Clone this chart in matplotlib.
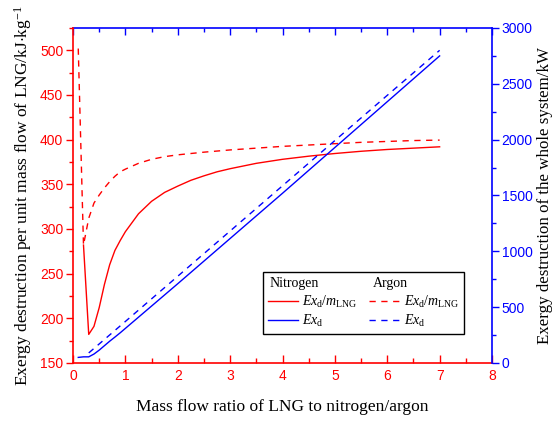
import numpy as np
import matplotlib
matplotlib.use("Agg")
import matplotlib.pyplot as plt
from matplotlib.lines import Line2D
from matplotlib.ticker import MultipleLocator
import matplotlib.transforms as mtransforms

plt.rcParams['mathtext.fontset'] = 'custom'
plt.rcParams['mathtext.rm'] = 'Liberation Serif'
plt.rcParams['mathtext.it'] = 'Liberation Serif:italic'

# Exergy destruction per unit mass flow of LNG (kJ/kg)
ratio_n2_spec = [0.2, 0.3, 0.4, 0.5, 0.6, 0.7, 0.8, 0.9, 1.0, 1.25, 1.5, 1.75,
                 2.0, 2.25, 2.5, 2.75, 3.0, 3.5, 4.0, 4.5, 5.0, 5.5, 6.0, 6.5, 7.0]
exd_spec_n2 = [282, 182, 191, 212, 238, 260, 276, 287, 297, 317, 331, 341,
               348, 354.5, 359.5, 364, 367.5, 373.5, 378, 381.5, 384.5, 387, 389, 390.5, 392]

ratio_ar_spec = [0.1, 0.2, 0.3, 0.4, 0.5, 0.6, 0.7, 0.8, 0.9, 1.0, 1.25, 1.5,
                 1.75, 2.0, 2.5, 3.0, 3.5, 4.0, 4.5, 5.0, 5.5, 6.0, 6.5, 7.0]
exd_spec_ar = [502, 282, 312, 329, 338, 346, 353, 359, 364, 367, 373.5, 378,
               381, 383, 386, 388.5, 390.5, 392.5, 394, 395.5, 397, 398, 399, 399.5]

# Exergy destruction of the whole system (kW)
ratio_n2_tot = [0.1, 0.2, 0.3, 0.4, 0.5, 0.6, 0.7, 0.8, 0.9, 1.0,
                2.0, 3.0, 4.0, 5.0, 6.0, 7.0]
exd_tot_n2 = [50, 55, 55, 80, 115, 155, 195, 232, 270, 310,
              710, 1115, 1520, 1930, 2340, 2750]

ratio_ar_tot = [0.3, 1.0, 2.0, 3.0, 4.0, 5.0, 6.0, 7.0]
exd_tot_ar = [90, 372, 777, 1182, 1587, 1992, 2397, 2800]

serif = 'Liberation Serif'
sans = 'Liberation Sans'
dash = (0, (4.5, 4))

fig = plt.figure(figsize=(5.54, 4.21), dpi=100)
ax = fig.add_axes([0.1318, 0.1378, 0.7563, 0.7957])
ax2 = ax.twinx()

l1, = ax.plot(ratio_n2_spec, exd_spec_n2, color='red', lw=1.0)
l2, = ax.plot(ratio_ar_spec, exd_spec_ar, color='red', lw=1.0, linestyle=dash)
l3, = ax2.plot(ratio_n2_tot, exd_tot_n2, color='blue', lw=1.0)
l4, = ax2.plot(ratio_ar_tot, exd_tot_ar, color='blue', lw=1.0, linestyle=dash)

ax.set_xlim(0, 8)
ax.set_ylim(150, 525)
ax2.set_ylim(0, 3000)

ax.xaxis.set_major_locator(MultipleLocator(1))
ax.xaxis.set_minor_locator(MultipleLocator(0.5))
ax.yaxis.set_major_locator(MultipleLocator(50))
ax.yaxis.set_minor_locator(MultipleLocator(25))
ax2.yaxis.set_major_locator(MultipleLocator(500))
ax2.yaxis.set_minor_locator(MultipleLocator(250))

ax.tick_params(axis='x', which='major', direction='in', length=6, width=1,
               colors='red', labelsize=10, pad=4)
ax.tick_params(axis='x', which='minor', direction='in', length=3.5, width=1, colors='red')
ax.tick_params(axis='y', which='major', direction='out', length=5, width=1,
               colors='red', labelsize=10, pad=2)
ax.tick_params(axis='y', which='minor', direction='out', length=3, width=1, colors='red')
ax2.tick_params(axis='y', which='major', direction='out', length=5, width=1,
                colors='blue', labelsize=10, pad=2)
ax2.tick_params(axis='y', which='minor', direction='out', length=3, width=1, colors='blue')

# blue ticks along the top edge
top = ax.secondary_xaxis('top')
top.xaxis.set_major_locator(MultipleLocator(1))
top.xaxis.set_minor_locator(MultipleLocator(0.5))
top.tick_params(axis='x', which='major', direction='in', length=5, width=1,
                colors='blue', labeltop=False)
top.tick_params(axis='x', which='minor', direction='in', length=3, width=1, colors='blue')
top.spines['top'].set_color('blue')
top.spines['top'].set_linewidth(1.2)

for lab in ax.get_xticklabels() + ax.get_yticklabels() + ax2.get_yticklabels():
    lab.set_family(sans)

ax.spines['left'].set_color('red')
ax.spines['bottom'].set_color('red')
ax.spines['top'].set_visible(False)
ax.spines['right'].set_visible(False)
for s in ['left', 'bottom']:
    ax.spines[s].set_linewidth(1.2)
ax2.spines['left'].set_visible(False)
ax2.spines['bottom'].set_visible(False)
ax2.spines['top'].set_visible(False)
ax2.spines['right'].set_color('blue')
ax2.spines['right'].set_linewidth(1.2)

ax.set_xlabel('Mass flow ratio of LNG to nitrogen/argon', family=serif, fontsize=12.5, labelpad=12)
ax.set_ylabel('Exergy destruction per unit mass flow of LNG/kJ$\\cdot$kg$^{-1}$',
              family=serif, fontsize=12.5, labelpad=4)
ax2.set_ylabel('Exergy destruction of the whole system/kW', family=serif, fontsize=12.2, labelpad=3)

blank = Line2D([], [], linestyle='none')
handles = [blank, l1, l3, blank, l2, l4]
labels = ['Nitrogen', '$Ex_{\\mathrm{d}}/m_{\\mathrm{LNG}}$', '$Ex_{\\mathrm{d}}$',
          'Argon', '$Ex_{\\mathrm{d}}/m_{\\mathrm{LNG}}$', '$Ex_{\\mathrm{d}}$']
leg = ax2.legend(handles, labels, ncol=2, loc='lower right', bbox_to_anchor=(0.933, 0.087),
                 borderaxespad=0, fancybox=False, edgecolor='black', framealpha=1,
                 prop={'family': serif, 'size': 10}, handlelength=2.2, handletextpad=0.3,
                 columnspacing=0.8, labelspacing=0.26, borderpad=0.33)
leg.get_frame().set_linewidth(1.0)

# pull the column headers back over the line samples
hdr_shift = {0: -24, 3: -22}
for i, dx in hdr_shift.items():
    t = leg.get_texts()[i]
    t.set_transform(t.get_transform() + mtransforms.ScaledTranslation(dx / 72, 0, fig.dpi_scale_trans))

fig.savefig('out.png', dpi=100)
